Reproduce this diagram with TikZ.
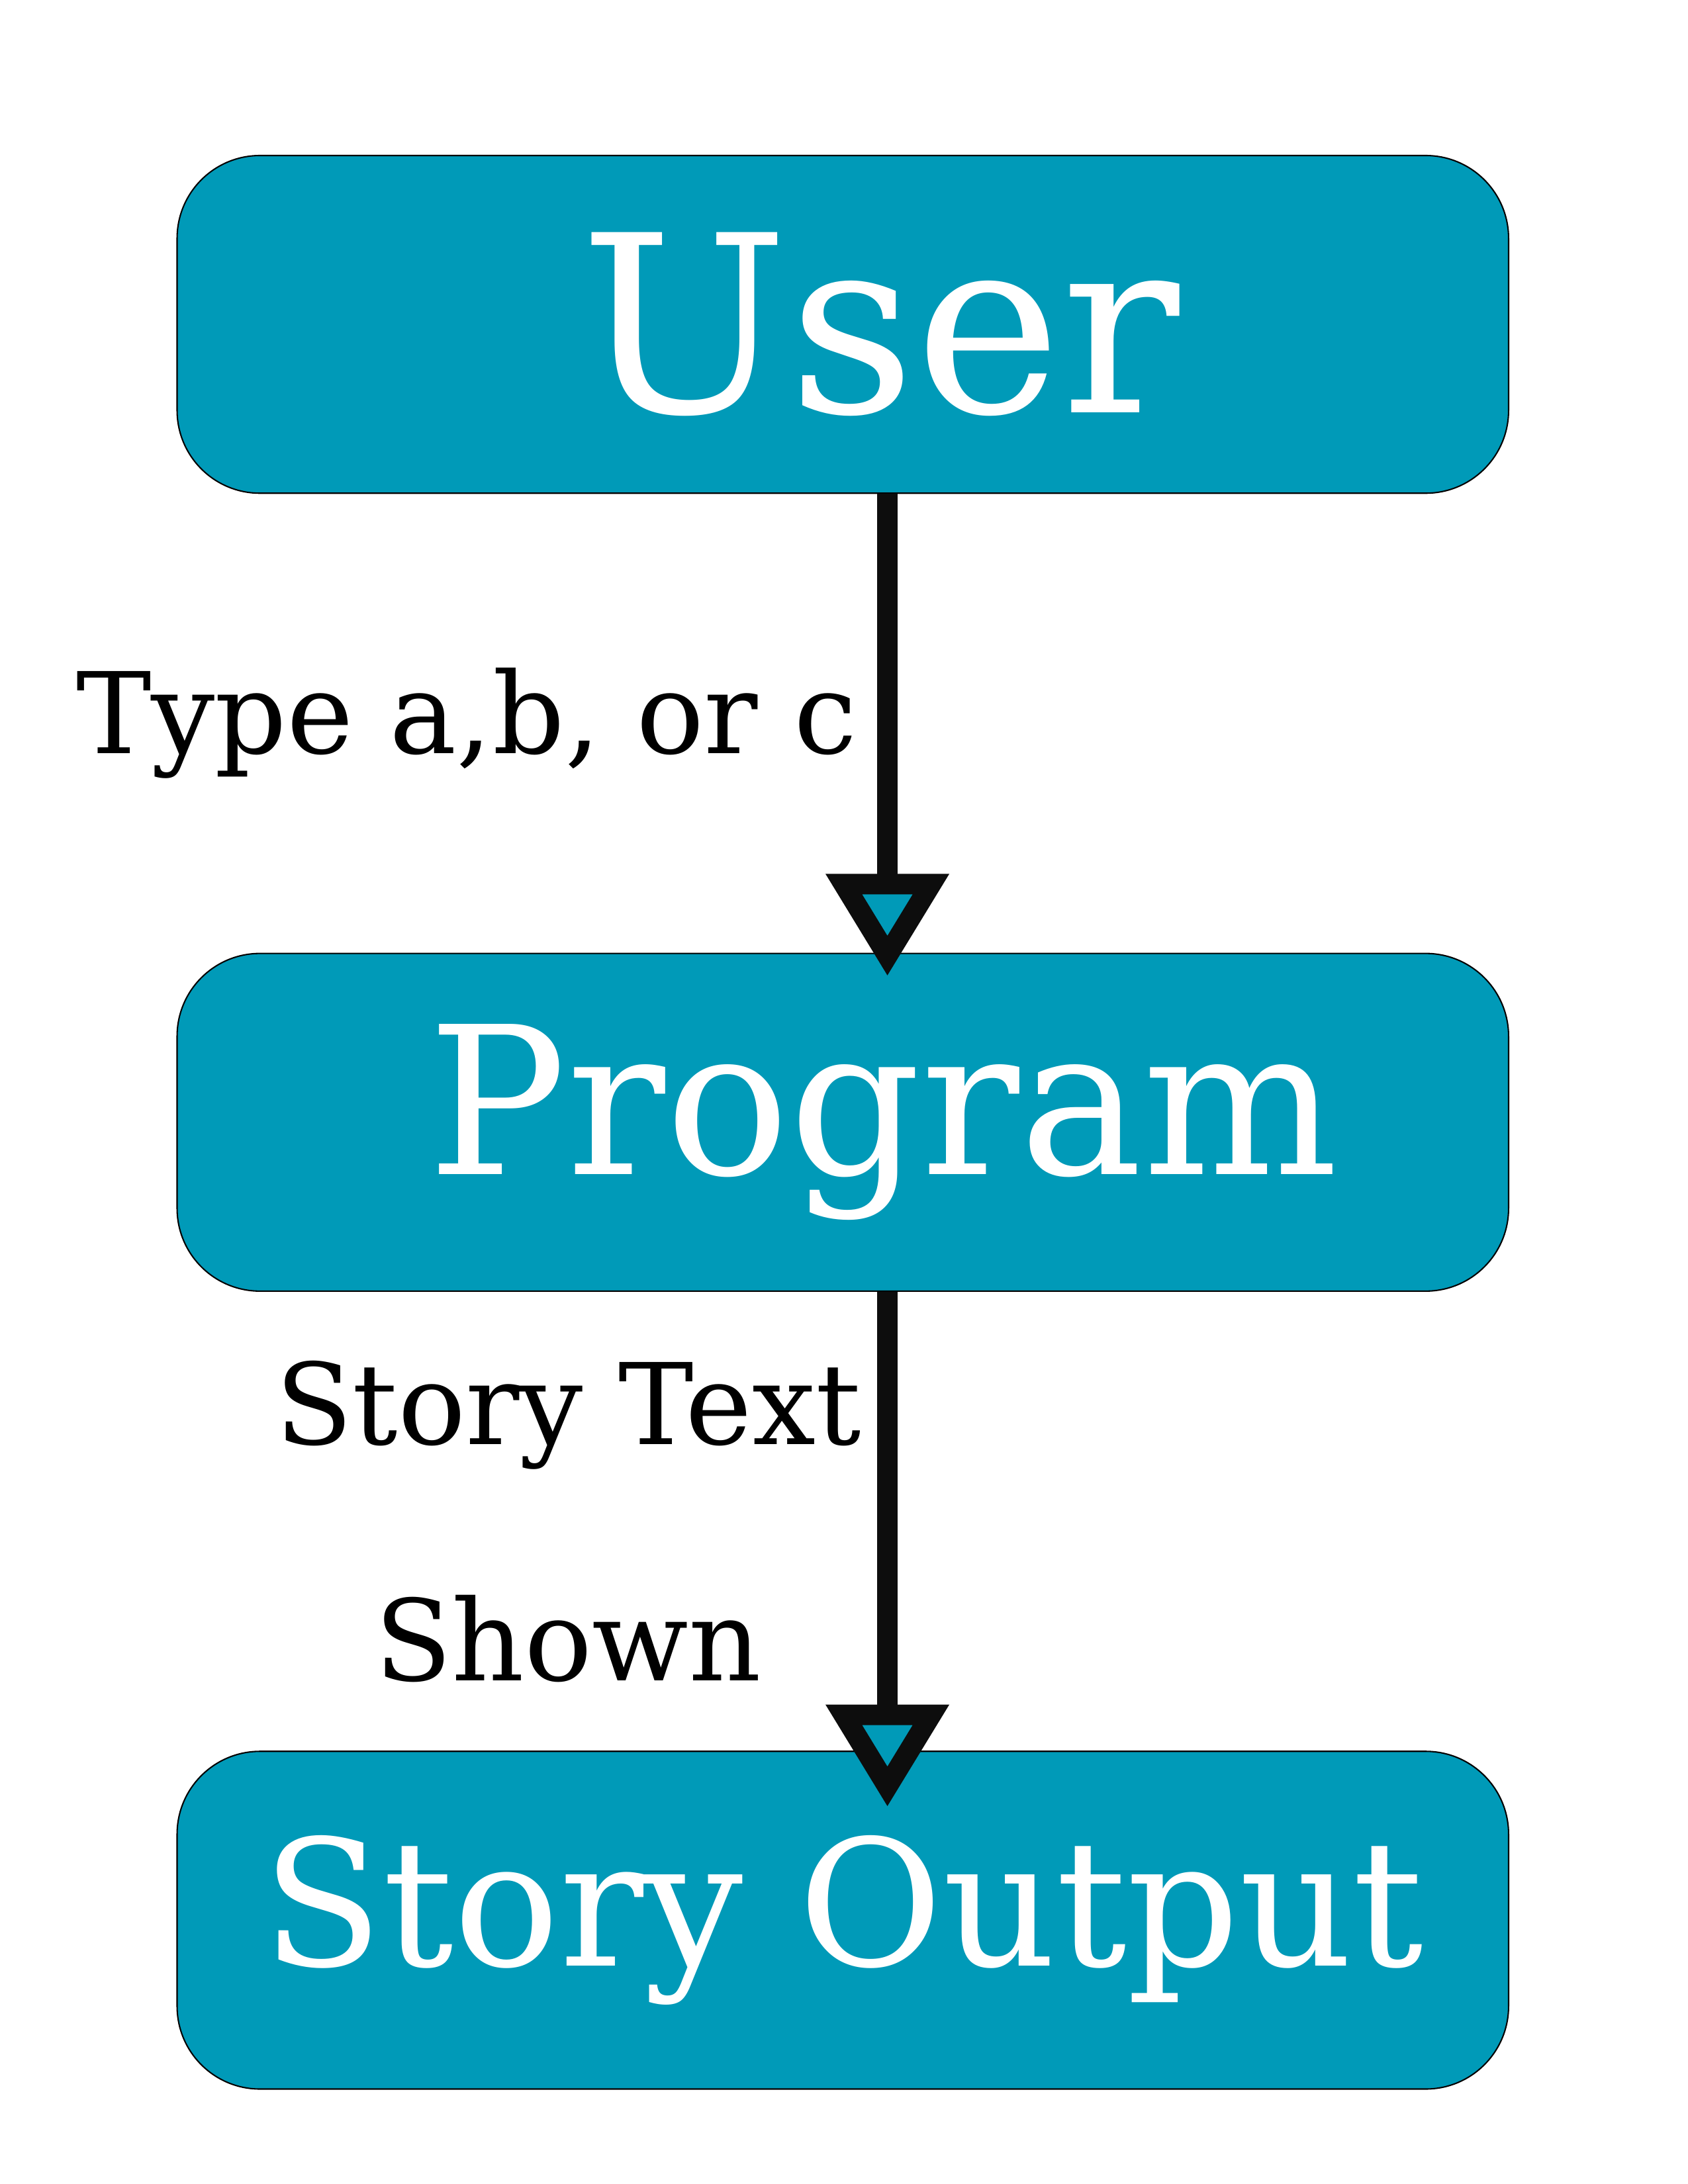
\documentclass[tikz,border=0pt]{standalone}
\usepackage{fontspec}
\setmainfont{DejaVu Serif}
\usetikzlibrary{positioning,arrows.meta}
\definecolor{boxteal}{RGB}{0,154,184}
\definecolor{arrowblack}{RGB}{13,13,13}

\begin{document}
\begin{tikzpicture}[
  mybox/.style={
    rectangle,
    rounded corners=1.06cm,
    fill=boxteal,
    draw=black,
    line width=0.5pt,
    text=white,
    minimum width=17.03cm,
    minimum height=4.32cm,
    inner sep=0pt
  },
  myarrow/.style={
    draw=arrowblack,
    line width=7.5pt,
    -{Triangle[length=1.31cm, width=1.51cm, fill=boxteal]}
  },
  mylabel/.style={
    text=black,
    align=center,
    font=\fontsize{41}{86}\selectfont
  }
]
\useasboundingbox (0,0) rectangle (21.59,27.94);
\node[mybox, font=\fontsize{90}{100}\selectfont] (user) at (10.78,23.79) {\hspace*{0.95cm}User};
\node[mybox, below=5.87cm of user, font=\fontsize{75}{85}\selectfont] (program) {\hspace*{1.03cm}Program};
\node[mybox, below=5.87cm of program, font=\fontsize{64}{72}\selectfont] (output) {Story Output};
\draw[myarrow, shorten >=-0.30cm] ([xshift=0.57cm]user.south) -- ([xshift=0.57cm]program.north)
  node[mylabel, midway, left=0.14cm] {Type a,b, or c};
\draw[myarrow, shorten >=-0.72cm] ([xshift=0.57cm]program.south) -- ([xshift=0.57cm]output.north)
  node[mylabel, midway, left=0.09cm] {Story Text\\Shown};
\end{tikzpicture}
\end{document}
